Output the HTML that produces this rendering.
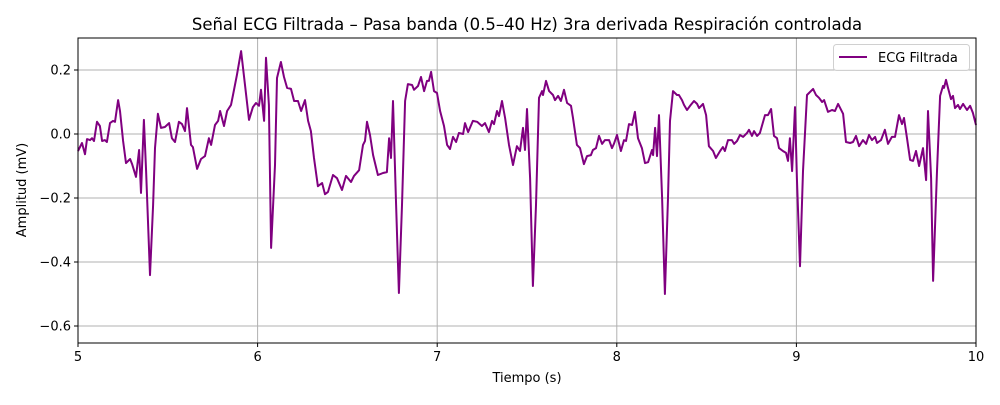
<!DOCTYPE html>
<html><head><meta charset="utf-8"><style>
body{margin:0;background:#fff;font-family:"Liberation Sans","DejaVu Sans",sans-serif}
svg text{font-family:"DejaVu Sans","Liberation Sans",sans-serif}
</style></head><body>
<svg id="chart" width="1000" height="400" xmlns="http://www.w3.org/2000/svg"></svg>
<script>
const times=[5.000,5.022,5.039,5.050,5.067,5.078,5.089,5.106,5.122,5.134,5.150,5.161,5.178,5.195,5.206,5.223,5.234,5.251,5.267,5.290,5.301,5.323,5.340,5.351,5.367,5.379,5.401,5.418,5.429,5.445,5.462,5.484,5.507,5.523,5.540,5.562,5.579,5.596,5.607,5.629,5.640,5.663,5.685,5.707,5.729,5.741,5.763,5.780,5.791,5.813,5.830,5.852,5.863,5.885,5.908,5.930,5.952,5.974,5.991,6.008,6.019,6.036,6.047,6.063,6.075,6.097,6.108,6.130,6.147,6.164,6.186,6.203,6.225,6.242,6.264,6.281,6.297,6.314,6.336,6.359,6.375,6.392,6.420,6.442,6.470,6.492,6.520,6.537,6.565,6.587,6.598,6.609,6.626,6.643,6.670,6.698,6.720,6.732,6.743,6.754,6.771,6.787,6.804,6.821,6.837,6.860,6.871,6.893,6.910,6.927,6.943,6.954,6.966,6.982,6.999,7.016,7.038,7.055,7.071,7.088,7.105,7.121,7.144,7.155,7.172,7.199,7.222,7.249,7.266,7.288,7.305,7.316,7.333,7.344,7.361,7.378,7.400,7.422,7.444,7.461,7.478,7.489,7.500,7.517,7.533,7.550,7.567,7.584,7.589,7.606,7.623,7.645,7.656,7.673,7.689,7.706,7.723,7.745,7.756,7.778,7.795,7.817,7.834,7.856,7.867,7.884,7.901,7.918,7.934,7.957,7.973,7.984,8.001,8.023,8.040,8.051,8.068,8.085,8.101,8.118,8.140,8.157,8.174,8.196,8.202,8.213,8.224,8.235,8.252,8.268,8.285,8.296,8.313,8.335,8.346,8.363,8.374,8.391,8.408,8.430,8.447,8.458,8.480,8.497,8.513,8.536,8.552,8.575,8.591,8.602,8.619,8.641,8.653,8.669,8.686,8.703,8.725,8.736,8.753,8.764,8.781,8.797,8.825,8.842,8.859,8.875,8.892,8.903,8.925,8.942,8.953,8.964,8.976,8.992,9.003,9.020,9.037,9.059,9.070,9.093,9.109,9.126,9.143,9.154,9.176,9.198,9.215,9.232,9.260,9.276,9.299,9.315,9.332,9.349,9.371,9.388,9.404,9.421,9.438,9.449,9.471,9.493,9.510,9.532,9.549,9.571,9.588,9.599,9.616,9.633,9.649,9.666,9.683,9.705,9.722,9.733,9.750,9.761,9.783,9.800,9.816,9.822,9.833,9.844,9.861,9.872,9.883,9.900,9.911,9.928,9.950,9.967,9.983,10.000];
const ecgValues=[-0.053,-0.028,-0.063,-0.016,-0.019,-0.013,-0.022,0.038,0.025,-0.022,-0.019,-0.025,0.034,0.041,0.038,0.106,0.072,-0.022,-0.091,-0.078,-0.094,-0.134,-0.050,-0.184,0.044,-0.116,-0.441,-0.222,-0.044,0.063,0.019,0.022,0.034,-0.013,-0.025,0.038,0.031,0.009,0.081,-0.034,-0.041,-0.109,-0.078,-0.069,-0.013,-0.034,0.028,0.041,0.072,0.025,0.072,0.091,0.122,0.184,0.259,0.153,0.044,0.084,0.097,0.088,0.138,0.041,0.238,0.091,-0.356,-0.097,0.175,0.225,0.178,0.144,0.141,0.103,0.103,0.072,0.106,0.041,0.009,-0.075,-0.163,-0.153,-0.188,-0.181,-0.128,-0.138,-0.175,-0.131,-0.150,-0.131,-0.113,-0.034,-0.022,0.038,-0.003,-0.066,-0.128,-0.122,-0.119,-0.013,-0.075,0.103,-0.222,-0.497,-0.222,0.103,0.156,0.153,0.138,0.150,0.178,0.134,0.166,0.166,0.194,0.134,0.128,0.072,0.025,-0.034,-0.047,-0.009,-0.025,0.003,0.000,0.034,0.006,0.041,0.038,0.025,0.034,0.006,0.041,0.031,0.072,0.056,0.103,0.050,-0.034,-0.097,-0.038,-0.053,0.019,-0.050,0.078,-0.138,-0.475,-0.222,0.113,0.134,0.122,0.166,0.134,0.122,0.106,0.119,0.103,0.138,0.097,0.088,0.050,-0.034,-0.044,-0.094,-0.069,-0.066,-0.050,-0.044,-0.006,-0.031,-0.019,-0.019,-0.044,-0.031,-0.003,-0.053,-0.019,-0.022,0.031,0.028,0.069,-0.013,-0.044,-0.091,-0.088,-0.050,-0.066,0.019,-0.069,0.059,-0.200,-0.500,-0.200,0.041,0.134,0.122,0.122,0.106,0.091,0.075,0.088,0.103,0.094,0.081,0.094,0.059,-0.038,-0.053,-0.075,-0.053,-0.041,-0.053,-0.019,-0.019,-0.031,-0.022,-0.003,-0.009,0.003,0.013,-0.006,0.009,-0.006,0.003,0.059,0.059,0.078,-0.006,-0.013,-0.044,-0.053,-0.059,-0.084,-0.013,-0.116,0.084,-0.138,-0.413,-0.116,0.122,0.128,0.141,0.122,0.113,0.100,0.106,0.069,0.075,0.072,0.094,0.063,-0.025,-0.028,-0.025,-0.006,-0.038,-0.019,-0.031,-0.003,-0.019,-0.009,-0.028,-0.019,0.013,-0.031,-0.009,-0.009,0.059,0.031,0.050,-0.013,-0.081,-0.084,-0.053,-0.100,-0.044,-0.144,0.072,-0.138,-0.459,-0.116,0.119,0.150,0.144,0.169,0.144,0.109,0.119,0.081,0.091,0.078,0.094,0.075,0.088,0.066,0.028];
const xTicks=[5,6,7,8,9,10];
const yTicks=[0.2,0.0,-0.2,-0.4,-0.6];
const yTickLabels=["0.2","0.0","−0.2","−0.4","−0.6"];

const L=78,R=976,T=38,B=343,X0=5,X1=10,Y0=-0.6531,Y1=0.3;
const sx=t=>L+(t-X0)/(X1-X0)*(R-L);
const sy=v=>B-(v-Y0)/(Y1-Y0)*(B-T);
const svg=document.getElementById('chart');
const NS='http://www.w3.org/2000/svg';
function mk(tag,attrs,parent){const e=document.createElementNS(NS,tag);for(const k in attrs)e.setAttribute(k,attrs[k]);(parent||svg).appendChild(e);return e;}

const grid=mk('g',{});


xTicks.forEach(t=>{const l=mk('line',{x1:sx(t),x2:sx(t),y1:T,y2:B,stroke:'#b0b0b0','stroke-width':1},grid);

});
yTicks.forEach(v=>{const l=mk('line',{x1:L,x2:R,y1:sy(v),y2:sy(v),stroke:'#b0b0b0','stroke-width':1},grid);

});

const pts=times.map((t,i)=>sx(t).toFixed(1)+','+sy(ecgValues[i]).toFixed(1)).join(' ');
const line=mk('polyline',{points:pts,fill:'none',stroke:'#800080','stroke-width':2,'stroke-linejoin':'round'});



const frame=mk('rect',{x:L,y:T,width:R-L,height:B-T,fill:'none',stroke:'#000','stroke-width':1});



xTicks.forEach(t=>{mk('line',{x1:sx(t),x2:sx(t),y1:B,y2:B+4,stroke:'#000'});
const tx=mk('text',{x:sx(t),y:B+18,'text-anchor':'middle','font-size':'13'});tx.textContent=String(t);

});
yTicks.forEach((v,i)=>{mk('line',{x1:L-4,x2:L,y1:sy(v),y2:sy(v),stroke:'#000'});
const tx=mk('text',{x:L-7,y:sy(v)+4.5,'text-anchor':'end','font-size':'13'});tx.textContent=yTickLabels[i];

});

const title=mk('text',{x:527,y:30,'text-anchor':'middle','font-size':'16.5'});title.textContent='Señal ECG Filtrada – Pasa banda (0.5–40 Hz) 3ra derivada Respiración controlada';


const xl=mk('text',{x:527,y:382,'text-anchor':'middle','font-size':'13'});xl.textContent='Tiempo (s)';


const yl=mk('text',{x:26,y:190,'text-anchor':'middle','font-size':'13',transform:'rotate(-90 26 190)'});yl.textContent='Amplitud (mV)';



const lg=mk('g',{});


mk('rect',{x:833.5,y:44.5,width:136,height:26,rx:3,fill:'#fff','fill-opacity':0.8,stroke:'#d0d0d0'},lg);
mk('line',{x1:839,x2:867,y1:57,y2:57,stroke:'#800080','stroke-width':2},lg);
const lt=mk('text',{x:878,y:62,'font-size':'13'},lg);lt.textContent='ECG Filtrada';


</script>
</body></html>
